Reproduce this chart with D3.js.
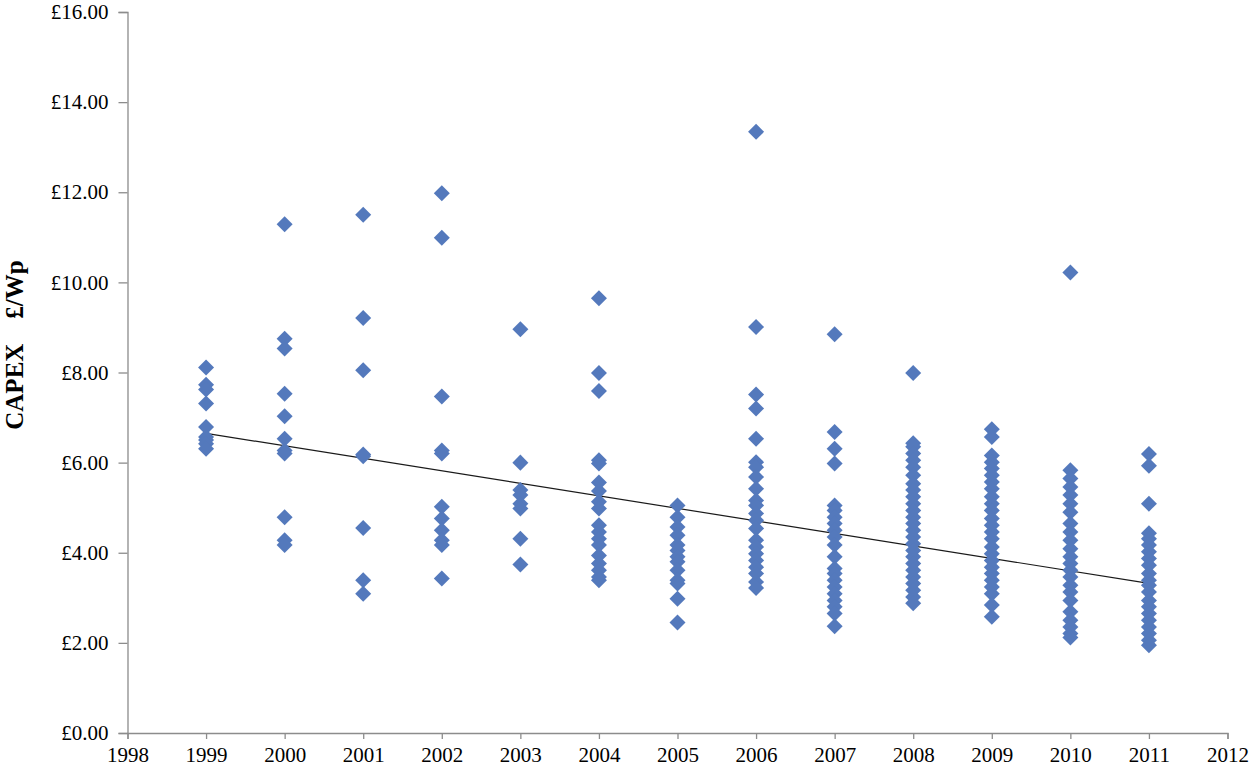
<!DOCTYPE html>
<html>
<head>
<meta charset="utf-8">
<script src="https://cdn.jsdelivr.net/npm/d3@7"></script>
<style>
  html, body { margin: 0; padding: 0; background: #fff; }
  svg { display: block; font-family: "Liberation Serif", "Times New Roman", serif; }
</style>
</head>
<body>
<svg id="chart" width="1253" height="769"></svg>
<script>
const WIDTH = 1253;
const HEIGHT = 769;

// CAPEX (£/Wp), one array per year
const years = [1999, 2000, 2001, 2002, 2003, 2004, 2005, 2006, 2007, 2008, 2009, 2010, 2011];
const capex1999 = [8.11, 7.73, 7.62, 7.31, 6.79, 6.57, 6.5, 6.42, 6.31];
const capex2000 = [11.29, 8.75, 8.53, 7.53, 7.03, 6.53, 6.27, 6.2, 4.79, 4.28, 4.17];
const capex2001 = [11.5, 9.21, 8.05, 6.18, 6.14, 4.55, 3.39, 3.09];
const capex2002 = [11.98, 10.99, 7.47, 6.27, 6.2, 5.02, 4.76, 4.5, 4.28, 4.17, 3.43];
const capex2003 = [8.96, 6.0, 5.39, 5.28, 5.09, 4.98, 4.31, 3.74];
const capex2004 = [9.65, 7.99, 7.59, 6.05, 5.98, 5.56, 5.37, 5.13, 4.98, 4.61, 4.46, 4.31, 4.17, 3.94, 3.76, 3.61, 3.46, 3.39];
const capex2005 = [5.05, 4.79, 4.57, 4.39, 4.17, 4.05, 3.91, 3.8, 3.61, 3.39, 3.32, 2.98, 2.45];
const capex2006 = [13.34, 9.01, 7.51, 7.2, 6.53, 6.01, 5.9, 5.68, 5.42, 5.16, 5.05, 4.87, 4.72, 4.54, 4.28, 4.13, 3.98, 3.83, 3.68, 3.54, 3.35, 3.22];
const capex2007 = [8.85, 6.68, 6.31, 5.98, 5.05, 4.94, 4.79, 4.65, 4.5, 4.35, 4.17, 3.91, 3.65, 3.54, 3.39, 3.24, 3.09, 2.94, 2.8, 2.65, 2.37];
const capex2008 = [7.99, 6.43, 6.35, 6.2, 6.05, 5.9, 5.72, 5.53, 5.39, 5.24, 5.09, 4.94, 4.79, 4.65, 4.5, 4.35, 4.2, 4.05, 3.91, 3.76, 3.61, 3.46, 3.32, 3.17, 3.02, 2.88];
const capex2009 = [6.74, 6.57, 6.16, 6.01, 5.87, 5.72, 5.57, 5.42, 5.24, 5.09, 4.94, 4.76, 4.61, 4.46, 4.31, 4.13, 3.98, 3.83, 3.68, 3.54, 3.39, 3.24, 3.09, 2.84, 2.58];
const capex2010 = [10.22, 5.83, 5.65, 5.46, 5.28, 5.09, 4.9, 4.65, 4.46, 4.28, 4.09, 3.91, 3.76, 3.61, 3.46, 3.28, 3.13, 2.94, 2.69, 2.5, 2.35, 2.21, 2.12];
const capex2011 = [6.19, 5.93, 5.09, 4.43, 4.31, 4.17, 4.02, 3.87, 3.72, 3.54, 3.39, 3.28, 3.13, 2.94, 2.8, 2.65, 2.5, 2.35, 2.21, 2.06, 1.95];
const capexByYear = [capex1999, capex2000, capex2001, capex2002, capex2003, capex2004, capex2005,
                     capex2006, capex2007, capex2008, capex2009, capex2010, capex2011];

// linear trend line end points as drawn
const trendYears = [1999, 2011];
const trendValues = [6.65, 3.32];

const xTicks = d3.range(1998, 2013);
const yTicks = [0, 2, 4, 6, 8, 10, 12, 14, 16];

const points = years.flatMap((year, i) => capexByYear[i].map(v => ({ year: year, value: v })));

const svg = d3.select('svg#chart');

const xScale = d3.scaleLinear()
  .domain([1998, 2012])
  .range([127.5, 1227.5]);

const yScale = d3.scaleLinear()
  .domain([0, 16])
  .range([733, 12]);

const AXIS_COLOR = '#8c8c8c';

// y axis
const yAxis = svg.append('g')
  .attr('transform', `translate(${xScale.range()[0]},0)`)
  .call(d3.axisLeft(yScale)
    .tickValues(yTicks)
    .tickSize(9)
    .tickPadding(10)
    .tickFormat(d => '£' + d.toFixed(2)));

// x axis
const xAxis = svg.append('g')
  .attr('transform', `translate(0,${yScale(0)})`)
  .call(d3.axisBottom(xScale)
    .tickValues(xTicks)
    .tickSize(6)
    .tickPadding(8)
    .tickFormat(d3.format('d')));

[yAxis, xAxis].forEach(axis => {
  axis.select('.domain').attr('stroke', AXIS_COLOR).attr('stroke-width', 1.3);
  axis.selectAll('.tick line').attr('stroke', AXIS_COLOR).attr('stroke-width', 1.3);
  axis.selectAll('.tick text')
    .attr('fill', '#000')
    .attr('font-size', '21px')
    .attr('font-family', '"Liberation Serif", "Times New Roman", serif');
});

// trend line
svg.append('line')
  .attr('x1', xScale(trendYears[0]))
  .attr('y1', yScale(trendValues[0]))
  .attr('x2', xScale(trendYears[1]))
  .attr('y2', yScale(trendValues[1]))
  .attr('stroke', '#1a1a1a')
  .attr('stroke-width', 1.2);

// diamonds
const diamond = d3.symbol().type(d3.symbolSquare).size(128);

svg.append('g')
  .selectAll('path')
  .data(points)
  .enter()
  .append('path')
  .attr('d', diamond)
  .attr('transform', d => `translate(${xScale(d.year)},${yScale(d.value)}) rotate(45)`)
  .attr('fill', '#5479BC');

// y axis title
svg.append('text')
  .attr('transform', 'translate(23,345) rotate(-90)')
  .attr('text-anchor', 'middle')
  .attr('font-size', '25px')
  .attr('font-weight', 'bold')
  .attr('fill', '#000')
  .style('white-space', 'pre')
  .text('CAPEX    £/Wp');
</script>
</body>
</html>
